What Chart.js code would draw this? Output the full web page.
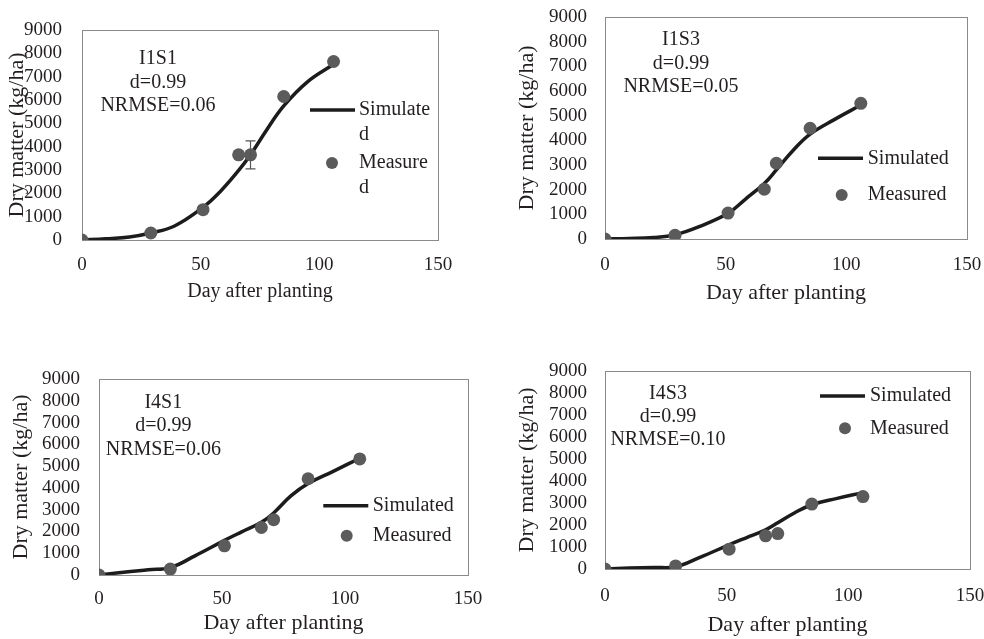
<!DOCTYPE html>
<html lang="en">
<head>
  <meta charset="UTF-8">
  <title>Dry matter</title>
  <style>
    body { margin: 0; background: #fff; width: 984px; height: 639px; overflow: hidden; position: relative; }
    .panel { position: absolute; }
  </style>
</head>
<body>
  <div class="panel" style="left:0px;top:0px;width:458px;height:306px"><canvas id="c1"></canvas></div>
  <div class="panel" style="left:505px;top:0px;width:479px;height:307px"><canvas id="c2"></canvas></div>
  <div class="panel" style="left:0px;top:360px;width:484px;height:277px"><canvas id="c3"></canvas></div>
  <div class="panel" style="left:505px;top:355px;width:480px;height:284px"><canvas id="c4"></canvas></div>

  <script src="https://cdn.jsdelivr.net/npm/chart.js"></script>
  <script>
    // days of the samples and of the smoothed simulated curve
    const measuredDays = [0, 29, 51, 66, 71, 85, 106]
    const simDays = [0, 10, 20, 29, 39, 51, 58, 66, 71, 78, 85, 95, 106]
    const xTicks = [0, 50, 100, 150]
    const yTicks = [0, 1000, 2000, 3000, 4000, 5000, 6000, 7000, 8000, 9000]

    const simI1S1 = [0, 50, 130, 300, 600, 1400, 2050, 2980, 3650, 4750, 5750, 6780, 7530]
    const measI1S1 = [0, 300, 1300, 3650, 3650, 6150, 7650]
    const errI1S1 = [0, 0, 0, 0, 600, 0, 0]
    const statsI1S1 = ['I1S1', 'd=0.99', 'NRMSE=0.06']

    const simI1S3 = [0, 20, 60, 170, 500, 1040, 1600, 2250, 2800, 3600, 4250, 4840, 5430]
    const measI1S3 = [0, 150, 1050, 2020, 3070, 4490, 5500]
    const statsI1S3 = ['I1S3', 'd=0.99', 'NRMSE=0.05']

    const simI4S1 = [0, 130, 240, 340, 880, 1590, 1980, 2420, 2850, 3630, 4200, 4750, 5360]
    const measI4S1 = [0, 270, 1340, 2180, 2540, 4420, 5330]
    const statsI4S1 = ['I4S1', 'd=0.99', 'NRMSE=0.06']

    const simI4S3 = [0, 40, 70, 100, 530, 1100, 1420, 1780, 2100, 2560, 2920, 3200, 3470]
    const measI4S3 = [0, 140, 900, 1510, 1610, 2950, 3290]
    const statsI4S3 = ['I4S3', 'd=0.99', 'NRMSE=0.10']

    const SERIF = '"Liberation Serif", "Times New Roman", serif'
    const TXT = '#231f20'
    const LINE = '#1c1c1c'
    const DOT = '#5b5b5b'
    const FRAME = '#8a8a8a'

    function makeChart(canvasId, sim, meas, err, stats, lay) {
      const pts = (xs, ys) => xs.map((x, i) => ({x: x, y: ys[i]}))

      // frame, error bars, stats text and legend drawn inside the plot area
      const deco = {
        id: 'deco',
        beforeDatasetsDraw(chart) {
          const a = chart.chartArea
          const ctx = chart.ctx
          ctx.save()
          ctx.strokeStyle = FRAME
          ctx.lineWidth = 1
          ctx.strokeRect(Math.round(a.left) + 0.5, Math.round(a.top) + 0.5, Math.round(a.width), Math.round(a.height))
          ctx.restore()
        },
        afterDatasetsDraw(chart) {
          const a = chart.chartArea
          const ctx = chart.ctx
          const xs = chart.scales.x, ys = chart.scales.y
          ctx.save()

          if (err) {
            ctx.strokeStyle = '#555'
            ctx.lineWidth = 1.2
            err.forEach((e, i) => {
              if (!e) return
              const px = xs.getPixelForValue(measuredDays[i])
              const y1 = ys.getPixelForValue(meas[i] + e)
              const y2 = ys.getPixelForValue(meas[i] - e)
              ctx.beginPath()
              ctx.moveTo(px, y1); ctx.lineTo(px, y2)
              ctx.moveTo(px - 5, y1); ctx.lineTo(px + 5, y1)
              ctx.moveTo(px - 5, y2); ctx.lineTo(px + 5, y2)
              ctx.stroke()
            })
          }

          ctx.font = '20px ' + SERIF
          ctx.fillStyle = TXT
          ctx.textBaseline = 'middle'
          ctx.textAlign = 'center'
          stats.forEach((s, i) => {
            ctx.fillText(s, a.left + lay.statX, a.top + lay.statY + i * 23.4)
          })

          // legend
          const sd = chart.data.datasets[0], md = chart.data.datasets[1]
          const lg = lay.legend
          const wrap = (t) => {
            if (!lg.wrap || ctx.measureText(t).width <= lg.wrap) return [t]
            let k = t.length
            while (k > 1 && ctx.measureText(t.slice(0, k)).width > lg.wrap) k--
            return [t.slice(0, k), t.slice(k)]
          }
          ctx.textAlign = 'left'
          ctx.strokeStyle = sd.borderColor
          ctx.lineWidth = sd.borderWidth
          ctx.beginPath()
          ctx.moveTo(a.left + lg.x0, a.top + lg.y1)
          ctx.lineTo(a.left + lg.x1, a.top + lg.y1)
          ctx.stroke()
          wrap(sd.label).forEach((t, i) => ctx.fillText(t, a.left + lg.tx, a.top + lg.y1 + i * 25))

          ctx.fillStyle = md.backgroundColor
          ctx.beginPath()
          ctx.arc(a.left + lg.mx, a.top + lg.y2, 6, 0, Math.PI * 2)
          ctx.fill()
          ctx.fillStyle = TXT
          wrap(md.label).forEach((t, i) => ctx.fillText(t, a.left + lg.tx, a.top + lg.y2 + i * 25))

          ctx.restore()
        }
      }

      return new Chart(document.getElementById(canvasId), {
        type: 'scatter',
        data: {
          datasets: [
            {
              label: 'Simulated',
              data: pts(simDays, sim),
              showLine: true,
              borderColor: LINE,
              borderWidth: 3.5,
              pointRadius: 0,
              tension: 0.4,
              order: 2
            },
            {
              label: 'Measured',
              data: pts(measuredDays, meas),
              pointRadius: 6.5,
              backgroundColor: DOT,
              borderWidth: 0,
              order: 1
            }
          ]
        },
        options: {
          responsive: true,
          maintainAspectRatio: false,
          animation: false,
          layout: { padding: { left: 0, top: lay.padTop, right: lay.padRight, bottom: 0 } },
          plugins: {
            legend: { display: false },
            tooltip: { enabled: false }
          },
          scales: {
            x: {
              type: 'linear',
              min: 0,
              max: 150,
              afterBuildTicks: s => { s.ticks = xTicks.map(v => ({value: v})) },
              afterFit: s => { s.height = lay.xH; s.paddingLeft = 0; s.paddingRight = 0 },
              grid: { display: false, drawTicks: false },
              border: { display: false },
              ticks: { autoSkip: false, maxRotation: 0, padding: lay.xPad, color: TXT, font: { family: SERIF, size: 19 }, callback: v => String(v) },
              title: {
                display: true,
                text: 'Day after planting',
                color: TXT,
                font: { family: SERIF, size: lay.xTitleSize },
                padding: { top: 0, bottom: lay.xTitlePad }
              }
            },
            y: {
              min: 0,
              max: 9000,
              afterBuildTicks: s => { s.ticks = yTicks.map(v => ({value: v})) },
              afterFit: s => { s.width = lay.yW; s.paddingTop = 0; s.paddingBottom = 0 },
              grid: { display: false, drawTicks: false },
              border: { display: false },
              ticks: { autoSkip: false, padding: lay.yPad, color: TXT, font: { family: SERIF, size: 19 }, callback: v => String(v) },
              title: {
                display: true,
                text: 'Dry matter (kg/ha)',
                color: TXT,
                font: { family: SERIF, size: 22 },
                padding: { top: lay.yTitlePad, bottom: 0 }
              }
            }
          }
        },
        plugins: [deco]
      })
    }

    const chart1 = makeChart('c1', simI1S1, measI1S1, errI1S1, statsI1S1, {
      padTop: 30, padRight: 20, yW: 82, xH: 66, xPad: 13.5, xTitleSize: 20, xTitlePad: 2, yPad: 20, yTitlePad: 3.8,
      statX: 76, statY: 29,
      legend: { x0: 228, x1: 273, tx: 277, mx: 250, y1: 80, y2: 133, wrap: 76 }
    })
    const chart2 = makeChart('c2', simI1S3, measI1S3, null, statsI1S3, {
      padTop: 17, padRight: 17, yW: 100, xH: 68, xPad: 14.6, xTitleSize: 22, xTitlePad: 0.8, yPad: 18, yTitlePad: 8.8,
      statX: 76, statY: 23,
      legend: { x0: 213, x1: 258, tx: 262.7, mx: 236.7, y1: 141.3, y2: 178 }
    })
    const chart3 = makeChart('c3', simI4S1, measI4S1, null, statsI4S1, {
      padTop: 19, padRight: 16, yW: 99, xH: 62, xPad: 12.9, xTitleSize: 22, xTitlePad: 0.5, yPad: 19, yTitlePad: 8.5,
      statX: 64.3, statY: 23.7,
      legend: { x0: 224.3, x1: 269.3, tx: 273.7, mx: 247.7, y1: 126.7, y2: 156.7 }
    })
    const chart4 = makeChart('c4', simI4S3, measI4S3, null, statsI4S3, {
      padTop: 16, padRight: 15, yW: 100, xH: 70, xPad: 15.6, xTitleSize: 22, xTitlePad: 0.8, yPad: 18, yTitlePad: 8.8,
      statX: 63, statY: 22.3,
      legend: { x0: 215, x1: 260, tx: 265, mx: 240, y1: 25, y2: 57.3 }
    })
  </script>
</body>
</html>
